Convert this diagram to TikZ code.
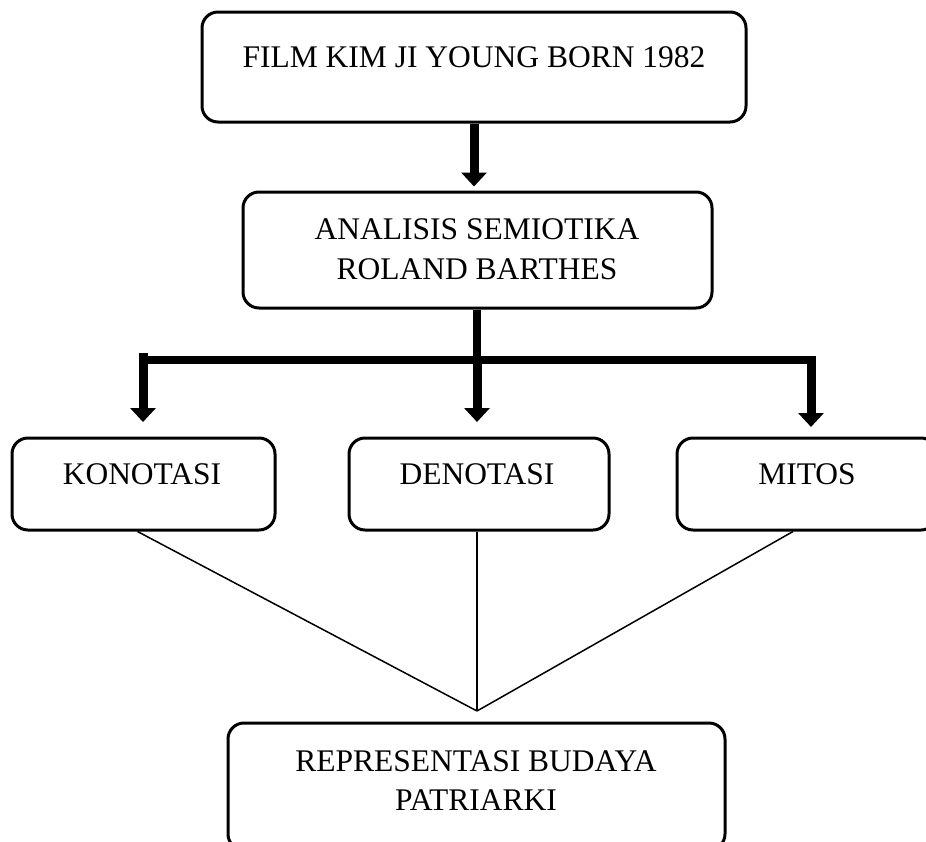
\documentclass[tikz,border=0pt]{standalone}
\usepackage{fontspec}
\setmainfont{Liberation Serif}
\usetikzlibrary{arrows.meta,calc}
\tikzset{
  box/.style={draw=black, line width=3pt, rounded corners=16pt, inner sep=0pt, fill=none},
  label/.style={font=\fontsize{31.5}{40}\selectfont, anchor=base, inner sep=0pt, align=center},
  thickarrow/.style={line width=9pt, -{Triangle[width=25pt,length=14pt]}},
  thickline/.style={line width=8pt},
  thinline/.style={line width=1.5pt}
}
\begin{document}
\begin{tikzpicture}[x=1pt,y=-1pt]
\useasboundingbox (0,0) rectangle (926,841);
\clip (0,0) rectangle (926,841);
\fill[white] (0,0) rectangle (926,841);
% boxes
\node[box, minimum width=544pt, minimum height=110pt] (b1) at (474,67) {};
\node[box, minimum width=469pt, minimum height=116pt] (b2) at (477.5,250) {};
\node[box, minimum width=263pt, minimum height=92pt] (k) at (143.5,484) {};
\node[box, minimum width=260pt, minimum height=92pt] (d) at (479,484) {};
\node[box, minimum width=260pt, minimum height=92pt] (m) at (807,484) {};
\node[box, minimum width=497pt, minimum height=127pt] (r) at (476.5,786.5) {};
% texts
\node[label] (t1) at (474,67) {FILM KIM JI YOUNG BORN 1982};
\node[label] (t2a) at (477,239) {ANALISIS SEMIOTIKA};
\node[label] (t2b) at (477,279) {ROLAND BARTHES};
\node[label] (tk) at (142,484) {KONOTASI};
\node[label] (td) at (477,484) {DENOTASI};
\node[label] (tm) at (807,484) {MITOS};
\node[label] (tr1) at (476,771) {REPRESENTASI BUDAYA};
\node[label] (tr2) at (476,810) {PATRIARKI};
% coordinates
\coordinate (bar) at (477,360);
\coordinate (bl) at (143,360);
\coordinate (br) at (811,360);
\coordinate (ka) at (143,422);
\coordinate (da) at (477,422);
\coordinate (ma) at (811,427);
\coordinate (apex) at (477,711);
% connectors
\draw[thickarrow] (b1.south) -- ([yshift=4pt]b2.north -| b1.south);
\draw[thickline] (b2.south -| bar) -- (bar);
\draw[thickline] (bl) -- (br);
\draw[thickarrow] ([yshift=7pt]bl) -- (ka);
\draw[thickarrow] (bar) -- (da);
\draw[thickarrow] ([yshift=4pt]br) -- (ma);
\draw[thinline] ([xshift=-6pt]k.south) -- (apex);
\draw[thinline] (d.south -| apex) -- (apex);
\draw[thinline] ([xshift=-14pt]m.south) -- (apex);
\end{tikzpicture}
\end{document}
